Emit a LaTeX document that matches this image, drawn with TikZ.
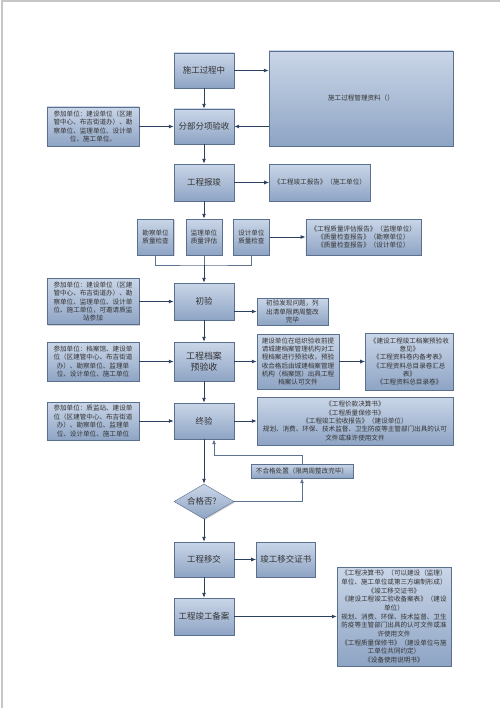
\documentclass[tikz,border=0pt]{standalone}
\usepackage{fontspec}
\setmainfont{Noto Sans CJK SC}
\usetikzlibrary{positioning,arrows.meta,shapes.geometric,shadows}
\definecolor{boxtop}{HTML}{CAD6E8}
\definecolor{boxbot}{HTML}{8EA4C4}
\definecolor{boxline}{HTML}{5B6F8E}
\definecolor{arrowc}{HTML}{2C4062}
\definecolor{linec}{HTML}{5F7290}
\tikzset{
  box/.style={draw=boxline, top color=boxtop, bottom color=boxbot, align=center, inner sep=1pt, text=black!80,
    drop shadow={shadow xshift=1bp, shadow yshift=-1bp, opacity=.35, fill=black!50}},
  big/.style={box, font=\fontsize{8.5}{10.5}\selectfont},
  small/.style={box, font=\fontsize{6.6}{8.4}\selectfont},
  wh/.style 2 args={minimum width=#1, minimum height=#2},
  go/.style={draw=arrowc, line width=.9bp, -{Latex[length=5bp,width=4bp]}},
  ln/.style={draw=linec, line width=.9bp}
}
\begin{document}
\begin{tikzpicture}[x=1bp, y=-1bp]
  \useasboundingbox (0,0) rectangle (500,708);
  \draw[gray!45, line width=1.2bp] (2,708) -- (2,1) -- (500,1);

  \node[big, wh={60bp}{35bp}] (sg) at (204,70.5) {施工过程中};
  \node[small, wh={184bp}{95bp}] (zl) at (361,98.5) {施工过程管理资料（）};
  \node[big, wh={60bp}{35bp}] (fb) at (204,126.5) {分部分项验收};
  \node[small, wh={92bp}{39bp}] (cj1) at (93,126.5) {参加单位：建设单位（区建\\管中心、布吉街道办）、勘\\察单位、监理单位、设计单\\位、施工单位。};
  \node[big, wh={60bp}{37bp}] (bj) at (204,182.5) {工程报竣};
  \node[small, wh={101bp}{37bp}, right=35bp of bj] (bg) {《工程竣工报告》（施工单位）};

  \node[small, wh={36bp}{36bp}] (jl) at (204,237) {监理单位\\质量评估};
  \node[small, wh={36bp}{36bp}, left=12bp of jl] (kc) {勘察单位\\质量检查};
  \node[small, wh={36bp}{36bp}, right=11bp of jl] (sj) {设计单位\\质量检查};
  \node[small, wh={115bp}{36bp}, right=36bp of sj] (zp) {《工程质量评估报告》（监理单位）\\《质量检查报告》（勘察单位）\\《质量检查报告》（设计单位）};
  \coordinate (bus) at (204,265);

  \node[big, wh={60bp}{37bp}] (cy) at (204,301.5) {初验};
  \node[small, wh={92bp}{46bp}] (cj2) at (93,301.5) {参加单位：建设单位（区建\\管中心、布吉街道办）、勘\\察单位、监理单位、设计单\\位、施工单位，可邀请质监\\站参加};
  \node[small, wh={71bp}{27bp}] (wt) at (292.5,311.5) {初验发现问题，列\\出清单限两周整改\\完毕};

  \node[big, wh={60bp}{39bp}, font=\fontsize{9}{11.5}\selectfont] (da) at (204,361.5) {工程档案\\预验收};
  \node[small, wh={92bp}{39bp}] (cj3) at (93,361.5) {参加单位：档案馆、建设单\\位（区建管中心、布吉街道\\办）、勘察单位、监理单\\位、设计单位、施工单位};
  \node[small, wh={82bp}{55bp}] (ys) at (298,361.5) {建设单位在组织验收前提\\请城建档案管理机构对工\\程档案进行预验收，预验\\收合格后由城建档案管理\\机构（档案馆）出具工程\\档案认可文件};
  \node[small, wh={88bp}{57bp}, right=26bp of ys] (yj2) {《建设工程竣工档案预验收\\意见》\\《工程资料卷内备考表》\\《工程资料总目录卷汇总\\表》\\《工程资料总目录卷》};

  \node[big, wh={60bp}{36bp}] (zy) at (204,421) {终验};
  \node[small, wh={92bp}{38bp}] (cj4) at (93,421) {参加单位：质监站、建设单\\位（区建管中心、布吉街道\\办）、勘察单位、监理单\\位、设计单位、施工单位};
  \node[small, wh={196bp}{48bp}] (wj) at (355,421) {《工程价款决算书》\\《工程质量保修书》\\《工程竣工验收报告》（建设单位）\\规划、消费、环保、技术监督、卫生防疫等主管部门出具的认可\\文件或准许使用文件};
  \node[small, wh={102bp}{14bp}] (bh) at (302,471) {不合格处置（限两周整改完毕）};
  \coordinate (bk) at (214,455);
  \node[big, diamond, aspect=1.7, inner sep=0pt, wh={60bp}{35bp}] (hg) at (204,501.5) {合格否？};

  \node[big, wh={60bp}{35bp}] (yj) at (204,559.5) {工程移交};
  \node[big, wh={59bp}{35bp}, right=22bp of yj] (zs) {竣工移交证书};
  \node[big, wh={60bp}{37bp}] (ba) at (204,616.5) {工程竣工备案};
  \node[small, wh={114bp}{99bp}, font=\fontsize{6.6}{8.7}\selectfont] (bz) at (394,616.5) {《工程决算书》（可以建设（监理）\\单位、施工单位或第三方编制形成）\\《竣工移交证书》\\《建设工程竣工验收备案表》（建设\\单位）\\规划、消费、环保、技术监督、卫生\\防疫等主管部门出具的认可文件或准\\许使用文件\\《工程质量保修书》（建设单位与施\\工单位共同约定）\\《设备使用说明书》};

  \draw[go] (sg) -- (sg -| zl.west);
  \draw[go] (sg) -- (fb);
  \draw[go] (zl.west |- fb) -- (fb);
  \draw[go] (cj1) -- (fb);
  \draw[go] (fb) -- (bj);
  \draw[go] (bj) -- (bg);
  \draw[go] (bj) -- (jl);
  \draw[go] (sj) -- (zp);
  \draw[ln] (kc.south) |- (bus) -| (sj.south);
  \draw[ln] (jl) -- (bus);
  \draw[go] (bus) -- (cy);
  \draw[go] (cj2) -- (cy);
  \draw[go] (cy.east |- wt) -- (wt);
  \draw[go] (cy) -- (da);
  \draw[go] (cj3) -- (da);
  \draw[go] (da) -- (ys);
  \draw[go] (ys) -- (ys -| yj2.west);
  \draw[go] (da) -- (zy);
  \draw[go] (cj4) -- (zy);
  \draw[go] (zy) -- (wj);
  \draw[go] (zy) -- (hg);
  \draw[go, draw=linec] (hg) -| (bh);
  \draw[go, draw=linec] (bh) |- (bk) -- (bk |- zy.south);
  \draw[go] (hg) -- (yj);
  \draw[go] (yj) -- (zs);
  \draw[go] (yj) -- (ba);
  \draw[go] (ba) -- (ba -| bz.west);
\end{tikzpicture}
\end{document}
